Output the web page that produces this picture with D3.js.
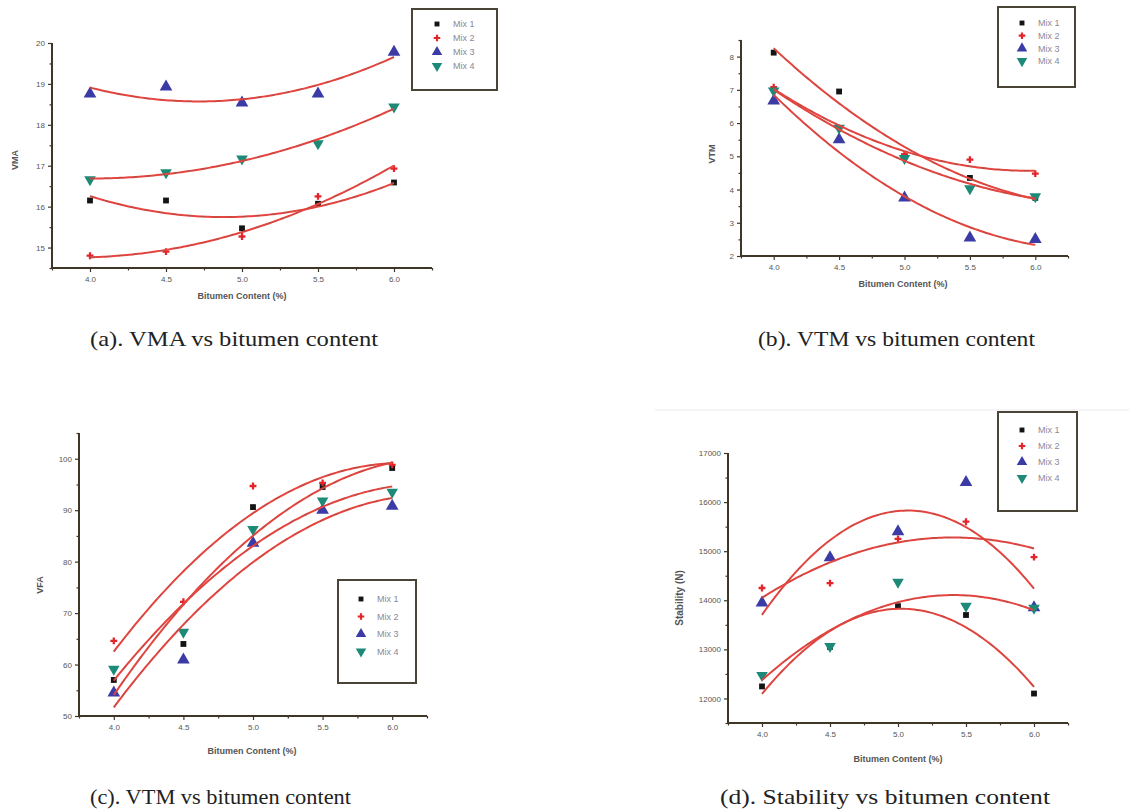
<!DOCTYPE html>
<html>
<head>
<meta charset="utf-8">
<script src="https://cdn.jsdelivr.net/npm/d3@7"></script>
<style>
  body { margin: 0; background: #fff; }
  svg { display: block; }
  .tick text { font-family: "Liberation Sans", Arial, sans-serif; font-size: 8px; fill: #555; }
  .axlab { font-family: "Liberation Sans", Arial, sans-serif; font-size: 9px; font-weight: bold; fill: #555; }
  .cap { font-family: "Liberation Serif", "Times New Roman", serif; font-size: 21px; fill: #222; }
  .leg { font-family: "Liberation Sans", Arial, sans-serif; font-size: 9px; fill: #8a8898; }
</style>
</head>
<body>
<div class="container"></div>
<script>
// bitumen content (%) on the x axis of every panel
const bitumen = [4.0, 4.5, 5.0, 5.5, 6.0];
const mixes = ["Mix 1", "Mix 2", "Mix 3", "Mix 4"];
const xTicks = [4.0, 4.5, 5.0, 5.5, 6.0];

// (a) VMA, one row per mix
const vma = [
    [16.15, 16.15, 15.47, 16.07, 16.59],
    [14.80, 14.90, 15.27, 16.25, 16.93],
    [18.76, 18.93, 18.54, 18.76, 19.78],
    [16.66, 16.83, 17.17, 17.54, 18.44]
];
// (b) VTM
const vtm = [
    [8.12, 6.95, 5.00, 4.35, 3.75],
    [7.08, 5.85, 5.06, 4.90, 4.48],
    [6.67, 5.50, 3.75, 2.55, 2.50],
    [6.97, 5.85, 4.94, 4.03, 3.79]
];
// (c) VFA
const vfa = [
    [57.0, 64.0, 90.6, 94.5, 98.2],
    [64.6, 72.2, 94.7, 95.3, 98.8],
    [54.5, 60.9, 83.6, 90.0, 90.8],
    [59.1, 66.3, 86.3, 91.8, 93.5]
];
// (d) Stability (N)
const stability = [
    [12245, 13050, 13880, 13700, 12100],
    [14250, 14350, 15250, 15600, 14880],
    [13950, 14870, 15400, 16400, 13850],
    [12470, 13060, 14370, 13880, 13840]
];

const yTicksA = [15, 16, 17, 18, 19, 20];
const yTicksB = [2, 3, 4, 5, 6, 7, 8];
const yTicksC = [50, 60, 70, 80, 90, 100];
const yTicksD = [12000, 13000, 14000, 15000, 16000, 17000];

const captions = [
    "(a). VMA vs bitumen content",
    "(b). VTM vs bitumen content",
    "(c). VTM vs bitumen content",
    "(d). Stability vs bitumen content"
];

const width = 1129, height = 812;
const colors = ["#141414", "#e3242b", "#3b3ba6", "#1d8a78"];
const axisColor = "#3e3727";

const svg = d3.select('.container')
    .append('svg')
    .attr('width', width)
    .attr('height', height);

// least squares quadratic, x centred on 5
const quadFit = (xs, ys) => {
    let S = [[0, 0, 0], [0, 0, 0], [0, 0, 0]], T = [0, 0, 0];
    xs.forEach((x0, i) => {
        const x = x0 - 5, p = [1, x, x * x];
        for (let r = 0; r < 3; r++) {
            T[r] += p[r] * ys[i];
            for (let c = 0; c < 3; c++) S[r][c] += p[r] * p[c];
        }
    });
    // gauss elimination
    const M = S.map((row, r) => row.concat([T[r]]));
    for (let k = 0; k < 3; k++) {
        for (let r = k + 1; r < 3; r++) {
            const f = M[r][k] / M[k][k];
            for (let c = k; c < 4; c++) M[r][c] -= f * M[k][c];
        }
    }
    const coef = [0, 0, 0];
    for (let r = 2; r >= 0; r--) {
        let s = M[r][3];
        for (let c = r + 1; c < 3; c++) s -= M[r][c] * coef[c];
        coef[r] = s / M[r][r];
    }
    return x => { const u = x - 5; return coef[0] + coef[1] * u + coef[2] * u * u; };
};

const symTypes = [d3.symbolSquare, d3.symbolCross, d3.symbolTriangle, d3.symbolTriangle];
const symSizes = [34, 26, 70, 58];
const legSizes = [24, 24, 48, 48];
const symRotate = [0, 0, 0, 180];

const drawPanel = p => {
    const x = d3.scaleLinear().domain([3.75, 6.25]).range([p.x0, p.x1]);
    const y = d3.scaleLinear().domain(p.ydom).range([p.yBot, p.yTop]);
    const g = svg.append('g');

    // markers
    p.data.forEach((row, m) => {
        g.selectAll('.m' + m)
            .data(row)
            .enter()
            .append('path')
            .attr('d', d3.symbol().type(symTypes[m]).size(symSizes[m]))
            .attr('fill', colors[m])
            .attr('transform', (d, i) => `translate(${x(bitumen[i])},${y(d)}) rotate(${symRotate[m]})`);
    });

    // fitted curves
    const line = d3.line().x(d => x(d[0])).y(d => y(d[1]));
    p.data.forEach(row => {
        const f = quadFit(bitumen, row);
        const pts = d3.range(4.0, 6.0001, 0.02).map(v => [v, f(v)]);
        g.append('path').attr('d', line(pts))
            .attr('fill', 'none').attr('stroke', '#e8443e').attr('stroke-width', 2);
        g.append('path').attr('d', line(pts))
            .attr('fill', 'none').attr('stroke', '#6a5a5a').attr('stroke-width', 0.8)
            .attr('stroke-dasharray', '5,9').attr('opacity', 0.6);
    });

    // axes
    const step = p.yTicks[1] - p.yTicks[0];
    const minorY = p.yTicks.concat([p.yTicks[p.yTicks.length - 1] + step])
        .map(v => v - step / 2)
        .filter(v => v >= p.ydom[0] && v <= p.ydom[1]);
    const minorX = [3.75, 4.25, 4.75, 5.25, 5.75, 6.25];
    const gx = g.append('g').attr('transform', `translate(0,${p.yBot})`);
    gx.call(d3.axisBottom(x).tickValues(xTicks).tickSize(4).tickPadding(4).tickFormat(d3.format('.1f')));
    const gxm = g.append('g').attr('transform', `translate(0,${p.yBot})`);
    gxm.call(d3.axisBottom(x).tickValues(minorX).tickSize(2.5).tickFormat(''));
    const gy = g.append('g').attr('transform', `translate(${p.x0},0)`);
    gy.call(d3.axisLeft(y).tickValues(p.yTicks).tickSize(4).tickPadding(3).tickFormat(d3.format('d')));
    const gym = g.append('g').attr('transform', `translate(${p.x0},0)`);
    gym.call(d3.axisLeft(y).tickValues(minorY).tickSize(2.5).tickFormat(''));
    [gx, gxm, gy, gym].forEach(a => {
        a.select('.domain').attr('stroke', axisColor).attr('stroke-width', 2);
        a.selectAll('.tick line').attr('stroke', axisColor).attr('stroke-width', 1.2);
    });
    gxm.select('.domain').remove();
    gym.select('.domain').remove();
    gx.select('.domain').attr('d', `M${p.x0},0H${p.x1}`);
    gy.select('.domain').attr('d', `M0,${p.yBot}V${p.yTop}`);

    // axis titles
    g.append('text').attr('class', 'axlab')
        .attr('x', p.xlab[0]).attr('y', p.xlab[1])
        .attr('text-anchor', 'middle').text('Bitumen Content (%)');
    g.append('text').attr('class', 'axlab')
        .attr('transform', `translate(${p.ylab[0]},${p.ylab[1]}) rotate(-90)`)
        .attr('text-anchor', 'middle').attr('dy', '0.35em')
        .style('font-size', p.ylabSize + 'px')
        .text(p.ylabel);

    // legend
    const lg = g.append('g');
    lg.append('rect').attr('x', p.leg[0]).attr('y', p.leg[1])
        .attr('width', p.leg[2]).attr('height', p.leg[3])
        .attr('fill', '#fff').attr('stroke', '#4a4436').attr('stroke-width', 2);
    mixes.forEach((name, m) => {
        const yy = p.leg[1] + p.legY0 + m * p.legDy;
        lg.append('path').attr('d', d3.symbol().type(symTypes[m]).size(legSizes[m]))
            .attr('fill', colors[m])
            .attr('transform', `translate(${p.leg[0] + p.legSym},${yy}) rotate(${symRotate[m]})`);
        lg.append('text').attr('class', 'leg')
            .attr('x', p.leg[0] + p.legSym + 16).attr('y', yy).attr('dy', '0.35em')
            .text(name);
    });

    // caption
    svg.append('text').attr('class', 'cap')
        .attr('x', p.cap[0]).attr('y', p.cap[1])
        .attr('textLength', p.cap[2]).attr('lengthAdjust', 'spacingAndGlyphs')
        .text(p.caption);
};

const panels = [
    {data: vma, ydom: [14.5, 20], yTicks: yTicksA, x0: 52, x1: 432, yTop: 43, yBot: 268,
        xlab: [242, 299], ylab: [15, 160], ylabel: 'VMA', ylabSize: 9,
        leg: [412, 9, 85, 81], legSym: 25, legY0: 15, legDy: 14,
        cap: [90, 346, 288], caption: captions[0]},
    {data: vtm, ydom: [2, 8.5], yTicks: yTicksB, x0: 741, x1: 1068, yTop: 40, yBot: 256,
        xlab: [903, 287], ylab: [712, 154], ylabel: 'VTM', ylabSize: 9,
        leg: [998, 7, 77, 80], legSym: 24, legY0: 16, legDy: 12.7,
        cap: [758, 346, 277], caption: captions[1]},
    {data: vfa, ydom: [50, 105], yTicks: yTicksC, x0: 79, x1: 427, yTop: 433, yBot: 716,
        xlab: [252, 754], ylab: [40, 585], ylabel: 'VFA', ylabSize: 9,
        leg: [338, 580, 78, 103], legSym: 23, legY0: 19, legDy: 17.5,
        cap: [90, 804, 261], caption: captions[2]},
    {data: stability, ydom: [11500, 17000], yTicks: yTicksD, x0: 728, x1: 1068, yTop: 453, yBot: 723,
        xlab: [898, 762], ylab: [679, 598], ylabel: 'Stability (N)', ylabSize: 10,
        leg: [998, 412, 79, 99], legSym: 24, legY0: 18, legDy: 16,
        cap: [720, 804, 330], caption: captions[3]}
];

// faint scan edge above panel (d)
svg.append('line').attr('x1', 655).attr('x2', width).attr('y1', 410).attr('y2', 410)
    .attr('stroke', '#ebe7ee').attr('stroke-width', 1);

panels.forEach(drawPanel);
</script>
</body>
</html>
